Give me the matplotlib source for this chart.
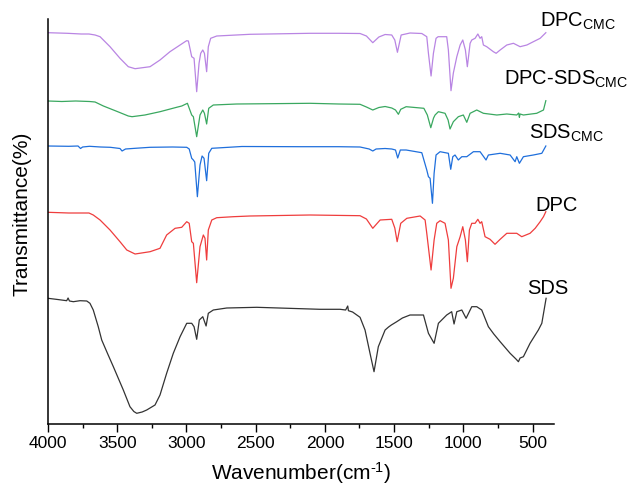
import matplotlib
matplotlib.use("Agg")
import matplotlib.pyplot as plt

plt.rcParams["font.family"] = ["Liberation Sans", "DejaVu Sans"]
plt.rcParams["mathtext.fontset"] = "custom"
plt.rcParams["mathtext.rm"] = "Liberation Sans"
plt.rcParams["mathtext.it"] = "Liberation Sans:italic"

# FTIR spectra, stacked with vertical offsets (arbitrary units)
dpc_cmc_wn = [4000, 3860, 3760, 3704, 3660, 3624, 3552, 3480, 3420, 3371, 3263, 3191, 3119, 3046, 3010,
              2998, 2986, 2962, 2945, 2926, 2909, 2897, 2882, 2870, 2854, 2842, 2825, 2781, 2541,
              2107, 1900, 1746, 1700, 1654, 1610, 1565, 1517, 1495, 1476, 1460, 1449, 1385, 1300,
              1264, 1252, 1233, 1216, 1197, 1182, 1120, 1108, 1089, 1072, 1047, 1023, 1004, 985,
              971, 951, 939, 915, 895, 879, 867, 855, 831, 783, 763, 734, 686, 638, 590, 541, 494,
              445, 404]
dpc_cmc_t = [391.3, 390.7, 390, 390, 389, 387.3, 377.3, 365.7, 357.3, 355.3, 357.3, 364, 372.3, 379, 382.3,
             383.3, 383, 367.3, 365.7, 332.3, 360.7, 370.7, 374, 370.7, 352.3, 377.3, 385.7, 388, 389.7,
             390.7, 390.7, 390.5, 388, 381.3, 387, 389.5, 389, 384, 371.7, 382, 389, 391, 390.5,
             387.3, 370.7, 348, 370.7, 385.7, 387.3, 387.3, 374, 333.3, 351, 367.3, 379, 384, 374,
             357.3, 380.7, 384, 385.7, 390, 385.7, 387.3, 379, 377.3, 372.3, 370.7, 374, 379, 380.7,
             377.3, 379, 382.3, 385.7, 391.3]

mix_cmc_wn = [4000, 3900, 3800, 3700, 3660, 3600, 3500, 3420, 3393, 3300, 3191, 3071, 3034, 2993,
              2962, 2950, 2926, 2902, 2882, 2870, 2854, 2839, 2806, 2637, 2400, 2107, 1900, 1746,
              1700, 1654, 1610, 1565, 1517, 1490, 1469, 1452, 1413, 1285, 1260, 1235, 1215, 1204,
              1180, 1132, 1110, 1096, 1072, 1036, 1000, 975, 951, 903, 855, 758, 686, 614, 600,
              595, 590, 566, 470, 421, 404]
mix_cmc_t = [323, 322.5, 323, 322.5, 322, 318, 312.5, 308, 307.3, 309, 312.3, 316.7, 318, 320.7,
             309, 307.3, 287.3, 309, 314, 310.7, 300, 315.7, 319, 320, 320.3, 320.7, 320, 319.7,
             317, 314, 316.5, 317.5, 316, 314, 309.7, 314.7, 317.3, 315.7, 309, 296.3, 306, 309,
             312.3, 310.7, 304, 295, 302.3, 307.3, 309, 301.7, 310.7, 314, 310.7, 309, 310, 309, 311,
             306.7, 310, 309, 310.7, 314, 323.3]

sds_cmc_wn = [4000, 3850, 3783, 3765, 3750, 3700, 3620, 3550, 3480, 3465, 3440, 3370, 3263, 3100,
              2998, 2980, 2962, 2950, 2940, 2921, 2902, 2887, 2873, 2854, 2839, 2817, 2600, 2179,
              1900, 1746, 1680, 1654, 1630, 1565, 1517, 1490, 1474, 1455, 1413, 1300, 1264, 1252,
              1240, 1223, 1211, 1197, 1168, 1108, 1091, 1076, 1060, 1036, 1011, 975, 927, 879, 836,
              819, 734, 662, 626, 614, 595, 566, 494, 433, 404]
sds_cmc_t = [278, 277.7, 278, 275.5, 277, 277.7, 277, 276.7, 275.5, 273, 275, 275.7, 276.7, 277,
             276.7, 275, 265.7, 264, 262, 227.3, 259, 268, 265.7, 243.3, 270.7, 275.7, 277.5, 277.3,
             277.3, 277, 275, 273, 275, 275.5, 275, 274, 266, 274, 274, 271.3, 254, 247.3,
             245.7, 220.7, 250.7, 269, 272.3, 270.7, 254.7, 267.3, 269, 264, 267.3, 267.3, 272.3,
             272.3, 264, 269, 270.7, 269, 262.3, 267.3, 260.7, 267.3, 269, 270.7, 278]

dpc_wn = [4000, 3850, 3704, 3673, 3624, 3552, 3480, 3431, 3371, 3263, 3191, 3143, 3082, 3034, 2998,
          2980, 2962, 2950, 2926, 2902, 2878, 2866, 2854, 2842, 2817, 2781, 2661, 2541, 2107, 1746,
          1700, 1654, 1601, 1517, 1495, 1478, 1452, 1408, 1312, 1276, 1264, 1233, 1211, 1192, 1168,
          1132, 1108, 1089, 1072, 1047, 1023, 1004, 985, 971, 956, 939, 915, 895, 879, 867, 843,
          807, 771, 734, 686, 614, 578, 518, 481, 445, 421, 404]
dpc_t = [211.7, 211, 211, 209, 204, 194, 182.3, 174, 170, 172.3, 175.7, 189, 195.7, 196.7, 202.3,
         200.7, 182.3, 180.7, 141.3, 177.3, 189, 185.7, 164, 194, 204, 206.3, 207.3, 208, 209, 208.3,
         205, 195.7, 204, 204.7, 196, 182.3, 200.7, 205.7, 208, 204, 190.7, 154, 184, 200.7, 203.3,
         200.7, 184, 135.7, 145.7, 177.3, 187.3, 197.3, 184, 162.3, 194, 200.7, 200.7, 204.7, 200.7,
         202.3, 187.3, 184.7, 179.7, 184.7, 190.7, 190.7, 187.3, 190.7, 195.7, 202.3, 207.3, 212.3]

sds_wn = [4000, 3930, 3865, 3855, 3845, 3817, 3769, 3720, 3697, 3673, 3637, 3612, 3570, 3528, 3490,
          3456, 3408, 3380, 3359, 3320, 3287, 3227, 3191, 3143, 3095, 3046, 2998, 2962, 2945, 2926,
          2907, 2882, 2858, 2842, 2806, 2709, 2492, 2035, 1890, 1850, 1835, 1830, 1800, 1746, 1710,
          1674, 1645, 1614, 1565, 1540, 1520, 1481, 1440, 1385, 1288, 1252, 1211, 1180, 1120, 1084,
          1067, 1047, 1011, 980, 939, 903, 867, 819, 780, 734, 662, 620, 602, 590, 566, 518, 458,
          433, 402]
sds_t = [125.7, 124.5, 123.3, 126, 123, 122.3, 123.3, 123, 120.7, 114, 97.3, 84, 70.5, 57.3, 45,
         34, 17.3, 12.5, 10.7, 12, 14, 19, 29, 50.7, 70.7, 87.3, 100.7, 100.7, 97.3, 84.7,
         104, 107.3, 98, 110.7, 114, 116, 116.7, 114.7, 114.7, 114, 118, 113.3, 112, 106.7, 94,
         70.7, 52.3, 77.3, 94, 97, 99, 102.3, 106, 109, 109, 90.7, 80.7, 100.7, 109, 112.3,
         100, 112.3, 114, 105.7, 117.3, 117.3, 114, 97.3, 90, 82.3, 70.7, 65, 62.3, 66, 67.3, 80.7,
         94, 100.7, 125.7]

series = [
    (dpc_cmc_wn, dpc_cmc_t, "#b985e3", r"DPC$_{\mathrm{CMC}}$", 445, 397),
    (mix_cmc_wn, mix_cmc_t, "#3aa860", r"DPC-SDS$_{\mathrm{CMC}}$", 705, 339),
    (sds_cmc_wn, sds_cmc_t, "#1f6fdc", r"SDS$_{\mathrm{CMC}}$", 527, 285.5),
    (dpc_wn, dpc_t, "#ef3d3d", "DPC", 481, 213.3),
    (sds_wn, sds_t, "#333333", "SDS", 539, 129.7),
]

fig = plt.figure(figsize=(6.33, 4.91), dpi=100)
ax = fig.add_axes([48 / 633, 67 / 491, 506 / 633, 405 / 491])

for wn, t, color, label, lx, ly in series:
    ax.plot(wn, t, color=color, lw=0.9)
    ax.text(lx, ly, label, fontsize=14.5, ha="left", va="baseline", clip_on=False)

ax.set_xlim(4000, 345)
ax.set_ylim(0, 405)
ax.set_xticks([4000, 3500, 3000, 2500, 2000, 1500, 1000, 500])
ax.set_xticks(range(3750, 300, -500), minor=True)
ax.set_yticks([])
ax.tick_params(axis="x", which="major", direction="out", length=5.5, width=1, labelsize=12.5, pad=3)
ax.tick_params(axis="x", which="minor", direction="out", length=3, width=1)
for side in ["top", "right"]:
    ax.spines[side].set_visible(False)
for side in ["left", "bottom"]:
    ax.spines[side].set_linewidth(1.1)

ax.set_xlabel("Wavenumber(cm$^{\u2010\\mathrm{1}}$)", fontsize=15)
ax.xaxis.set_label_coords(0.5, -0.09)
ax.set_ylabel("Transmittance(%)", fontsize=15)
ax.yaxis.set_label_coords(-0.032, 0.52)

fig.savefig("out.png", dpi=100)
